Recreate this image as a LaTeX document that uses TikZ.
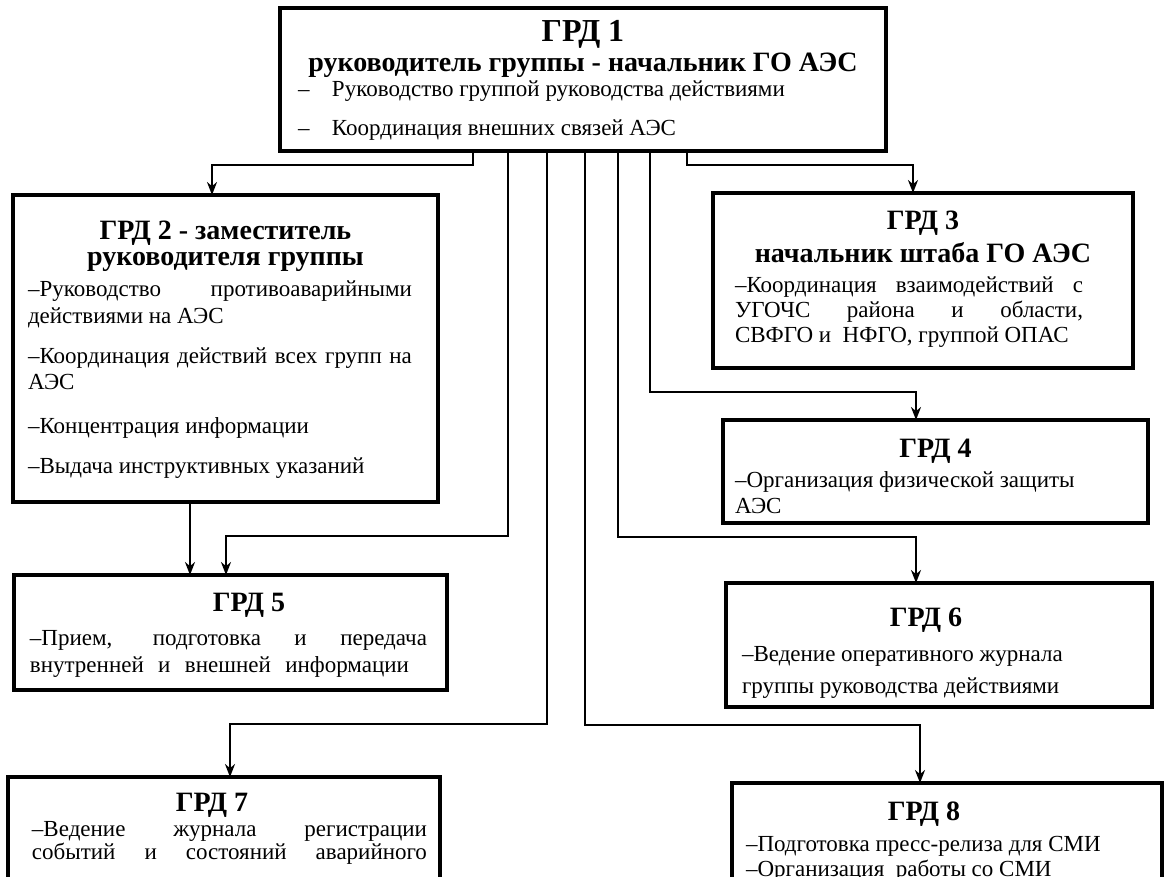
\documentclass[tikz,border=0pt]{standalone}
\usepackage{fontspec}
\setmainfont{Liberation Serif}
\usetikzlibrary{arrows.meta}
\lineskiplimit=-6pt
\newcommand{\grdhead}[2][0pt]{\makebox[\linewidth]{\hspace*{#1}\fontsize{14pt}{12.5pt}\selectfont\bfseries #2}}

\begin{document}
\begin{tikzpicture}[
    x=0.5pt, y=-0.5pt,
    box/.style={draw, line width=2pt, anchor=north west, inner sep=0pt, outer sep=0pt,
      font=\fontsize{11.5pt}{12.5pt}\selectfont},
    arrow/.style={-{Stealth[length=6.5pt, width=5pt]}, line width=1.4pt}
  ]
    \useasboundingbox (0,0) rectangle (1164,877);
    \clip (0,0) rectangle (1164,877);

    \node[box] (grd1) at (280,8) {\parbox[t][71.5pt][t]{303pt}{%
      \rule{0pt}{17pt}\makebox[\linewidth]{\fontsize{16pt}{12.5pt}\selectfont\bfseries ГРД 1}\\[1pt]
      \grdhead{руководитель группы - начальник ГО АЭС}\\[0pt]
      \hspace*{9pt}\makebox[17pt][l]{–}Руководство группой руководства действиями\\[7pt]
      \hspace*{9pt}\makebox[17pt][l]{–}Координация внешних связей АЭС}};

    \node[box] (grd2) at (13,195) {\parbox[t][153.5pt][t]{212.5pt}{%
      \rule{0pt}{22.5pt}\grdhead{ГРД 2 - заместитель}\\[0.5pt]
      \grdhead{руководителя группы}\\[3pt]
      \hspace*{7.5pt}\makebox[192pt][s]{–Руководство противоаварийными}\\[1pt]
      \hspace*{7.5pt}действиями на АЭС\\[7.5pt]
      \hspace*{7.5pt}\makebox[192pt][s]{–Координация действий всех групп на}\\[0.5pt]
      \hspace*{7.5pt}АЭС\\[9.5pt]
      \hspace*{7.5pt}–Концентрация информации\\[7.5pt]
      \hspace*{7.5pt}–Выдача инструктивных указаний}};

    \node[box] (grd3) at (713,193) {\parbox[t][87.5pt][t]{210pt}{%
      \rule{0pt}{18.5pt}\grdhead{ГРД 3}\\[2pt]
      \grdhead{начальник штаба ГО АЭС}\\[2.5pt]
      \hspace*{11pt}\makebox[174pt][s]{–Координация взаимодействий с}\\
      \hspace*{11pt}\makebox[174pt][s]{УГОЧС района и области,}\\
      \hspace*{11pt}СВФГО и\ \ НФГО, группой ОПАС}};

    \node[box] (grd4) at (723,420) {\parbox[t][51.5pt][t]{212.5pt}{%
      \rule{0pt}{19pt}\grdhead{ГРД 4}\\[2.5pt]
      \hspace*{6pt}–Организация физической защиты\\[0.5pt]
      \hspace*{6pt}АЭС}};

    \node[box] (grd5) at (14,575) {\parbox[t][57.5pt][t]{216.5pt}{%
      \rule{0pt}{18.5pt}\grdhead[18.5pt]{ГРД 5}\\[4.5pt]
      \hspace*{8pt}\makebox[198.5pt][s]{–Прием, подготовка и передача}\\[1pt]
      \hspace*{8pt}\makebox[189.5pt][s]{внутренней и внешней информации}}};

    \node[box] (grd6) at (726,583) {\parbox[t][62pt][t]{213pt}{%
      \rule{0pt}{21.5pt}\grdhead[-13pt]{ГРД 6}\\[5pt]
      \hspace*{8pt}–Ведение оперативного журнала\\[4pt]
      \hspace*{8pt}группы руководства действиями}};

    \node[box] (grd7) at (8,777) {\parbox[t][65pt][t]{216pt}{%
      \rule{0pt}{17.5pt}\grdhead[-12pt]{ГРД 7}\\[0pt]
      \hspace*{12pt}\makebox[197.5pt][s]{–Ведение журнала регистрации}\\[-1pt]
      \hspace*{12pt}\makebox[197.5pt][s]{событий и состояний аварийного}}};

    \node[box] (grd8) at (732,783) {\parbox[t][65pt][t]{215pt}{%
      \rule{0pt}{18.5pt}\grdhead[-23pt]{ГРД 8}\\[3pt]
      \hspace*{7pt}–Подготовка пресс-релиза для СМИ\\[0pt]
      \hspace*{7pt}–Организация\ \ работы со СМИ}};

    \coordinate (t2) at (473,0);
    \coordinate (t3) at (687,0);
    \coordinate (t4) at (650,0);
    \coordinate (t5) at (508,0);
    \coordinate (t6) at (618,0);
    \coordinate (t7) at (547,0);
    \coordinate (t8) at (585,0);
    \coordinate (t25) at (190,0);
    \coordinate (k2) at (212,165);
    \coordinate (k3) at (913,165);
    \coordinate (k4) at (916,392);
    \coordinate (k5) at (226,536);
    \coordinate (k6) at (916,537);
    \coordinate (k7) at (230,724);
    \coordinate (k8) at (920,725);

    \draw[arrow] (grd1.south -| t2) |- (k2) -- (grd2.north -| k2);
    \draw[arrow] (grd1.south -| t3) |- (k3) -- (grd3.north -| k3);
    \draw[arrow] (grd1.south -| t4) |- (k4) -- (grd4.north -| k4);
    \draw[arrow] (grd1.south -| t5) |- (k5) -- (grd5.north -| k5);
    \draw[arrow] (grd1.south -| t6) |- (k6) -- (grd6.north -| k6);
    \draw[arrow] (grd1.south -| t7) |- (k7) -- (grd7.north -| k7);
    \draw[arrow] (grd1.south -| t8) |- (k8) -- (grd8.north -| k8);
    \draw[arrow] (grd2.south -| t25) -- (grd5.north -| t25);
  \end{tikzpicture}
\end{document}
